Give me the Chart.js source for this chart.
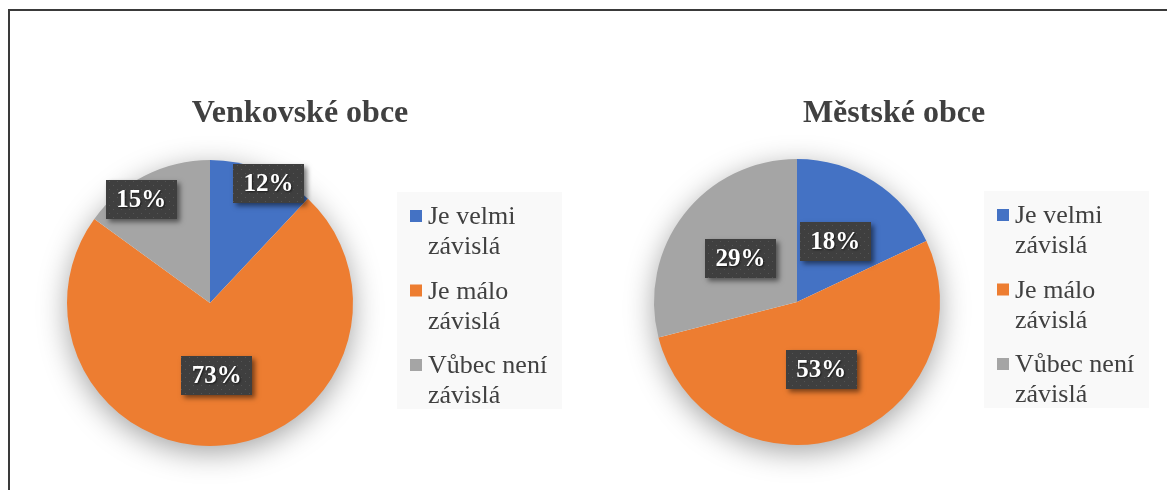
<!DOCTYPE html>
<html>
<head>
<meta charset="utf-8">
<script src="https://cdn.jsdelivr.net/npm/chart.js@4/dist/chart.umd.min.js"></script>
<style>
  body { margin: 0; background: #ffffff; }
  #wrap { position: relative; width: 1167px; height: 490px; overflow: hidden; background: #fff; }
  #frame { position: absolute; left: 8px; top: 9px; width: 1200px; height: 520px;
           border-left: 2px solid #3a3a3a; border-top: 2px solid #3a3a3a; }
  canvas { position: absolute; top: 0; }
  #ruralChart { left: 0; }
  #urbanChart { left: 583px; }
</style>
</head>
<body>
<div id="wrap">
  <div id="frame"></div>
  <canvas id="ruralChart" width="583" height="490"></canvas>
  <canvas id="urbanChart" width="584" height="490"></canvas>
</div>
<script>
// --- DATA ---
const categories = ['Je velmi závislá', 'Je málo závislá', 'Vůbec není závislá'];
const ruralValues = [12, 73, 15];
const urbanValues = [18, 53, 29];
const chartTitles = ['Venkovské obce', 'Městské obce'];
const sliceColors = ['#4472C4', '#ED7D31', '#A5A5A5'];

const SERIF = "'Liberation Serif', 'Times New Roman', serif";

// split "Je velmi závislá" -> ["Je velmi", "závislá"]
function legendLines(label) {
    const i = label.lastIndexOf(' ');
    return [label.slice(0, i), label.slice(i + 1)];
}

// small dotted texture used on the data label boxes
function makeDots() {
    const c = document.createElement('canvas');
    c.width = 8; c.height = 8;
    const g = c.getContext('2d');
    g.fillStyle = '#3f3f3f';
    g.fillRect(0, 0, 8, 8);
    g.fillStyle = '#545454';
    g.fillRect(1, 1, 1, 1);
    g.fillRect(5, 5, 1, 1);
    return c;
}
const dotTile = makeDots();

// --- PLUGIN: shadow, data labels, title, legend ---
const pieDecor = {
    id: 'pieDecor',
    beforeDatasetsDraw(chart) {
        const arc = chart.getDatasetMeta(0).data[0];
        const ctx = chart.ctx;
        ctx.save();
        ctx.shadowColor = 'rgba(0,0,0,0.38)';
        ctx.shadowBlur = 30;
        ctx.shadowOffsetY = 7;
        ctx.fillStyle = '#ffffff';
        ctx.beginPath();
        ctx.arc(arc.x, arc.y, arc.outerRadius - 1, 0, Math.PI * 2);
        ctx.fill();
        ctx.restore();
    },
    afterDatasetsDraw(chart, args, opts) {
        const ctx = chart.ctx;
        const values = chart.data.datasets[0].data;
        const meta = chart.getDatasetMeta(0);
        ctx.save();
        ctx.font = `bold 25px ${SERIF}`;
        ctx.textAlign = 'center';
        ctx.textBaseline = 'middle';
        meta.data.forEach((arc, i) => {
            const place = opts.place[i];
            const mid = (arc.startAngle + arc.endAngle) / 2 + place[1] * Math.PI / 180;
            const r = arc.outerRadius * place[0];
            const x = arc.x + Math.cos(mid) * r;
            const y = arc.y + Math.sin(mid) * r;
            const text = `${values[i]}%`;
            const w = Math.round(ctx.measureText(text).width + 21);
            const h = 39;
            const bx = Math.round(x - w / 2), by = Math.round(y - h / 2);

            ctx.save();
            ctx.shadowColor = 'rgba(0,0,0,0.5)';
            ctx.shadowBlur = 5;
            ctx.shadowOffsetX = 3;
            ctx.shadowOffsetY = 3;
            ctx.fillStyle = '#404040';
            ctx.fillRect(bx, by, w, h);
            ctx.restore();
            ctx.fillStyle = ctx.createPattern(dotTile, 'repeat');
            ctx.fillRect(bx, by, w, h);

            ctx.save();
            ctx.shadowColor = 'rgba(0,0,0,0.6)';
            ctx.shadowBlur = 2;
            ctx.shadowOffsetX = 1;
            ctx.shadowOffsetY = 1;
            ctx.fillStyle = '#ffffff';
            ctx.fillText(text, x, y + 1);
            ctx.restore();
        });
        ctx.restore();
    },
    afterDraw(chart, args, opts) {
        const ctx = chart.ctx;
        const area = chart.chartArea;
        ctx.save();

        // title
        ctx.fillStyle = '#404040';
        ctx.font = `bold 32px ${SERIF}`;
        ctx.textAlign = 'center';
        ctx.textBaseline = 'alphabetic';
        ctx.fillText(opts.title, opts.titleX, 122);

        // legend
        const bx = area.right + 44;
        const by = area.top + 32;
        ctx.fillStyle = '#f9f9f9';
        ctx.fillRect(bx, by, 165, 217);
        ctx.font = `26px ${SERIF}`;
        ctx.textAlign = 'left';
        chart.data.labels.forEach((label, i) => {
            const top = by + i * 74.5;
            ctx.fillStyle = sliceColors[i];
            ctx.fillRect(bx + 13, top + 18, 12, 12);
            ctx.fillStyle = '#404040';
            const lines = legendLines(label);
            ctx.fillText(lines[0], bx + 31, top + 32);
            ctx.fillText(lines[1], bx + 31, top + 62);
        });
        ctx.restore();
    }
};

function buildPie(canvasId, values, title, titleX, padding, place) {
    return new Chart(document.getElementById(canvasId), {
        type: 'pie',
        data: {
            labels: categories,
            datasets: [{
                data: values,
                backgroundColor: sliceColors,
                borderWidth: 0,
                hoverOffset: 0
            }]
        },
        options: {
            responsive: false,
            animation: false,
            events: [],
            layout: { padding: padding },
            plugins: {
                legend: { display: false },
                tooltip: { enabled: false },
                pieDecor: { title: title, titleX: titleX, place: place }
            }
        },
        plugins: [pieDecor]
    });
}

// label placement: [fraction of radius, angle nudge in degrees]
buildPie('ruralChart', ruralValues, chartTitles[0], 300,
    { left: 67, right: 230, top: 160, bottom: 44 },
    [[0.93, 4.5], [0.51, 0], [0.87, -6.5]]);

buildPie('urbanChart', urbanValues, chartTitles[1], 311,
    { left: 71, right: 227, top: 159, bottom: 45 },
    [[0.5, 0], [0.5, 0], [0.5, 0]]);
</script>
</body>
</html>
